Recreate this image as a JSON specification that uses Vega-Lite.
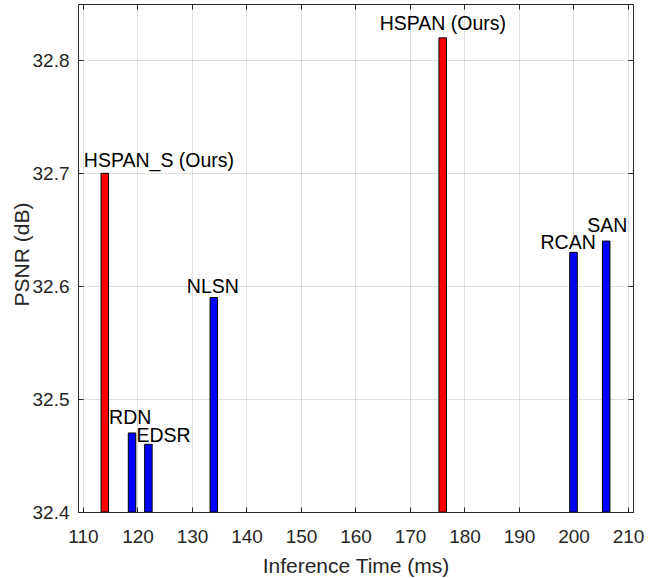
{
  "$schema": "https://vega.github.io/schema/vega-lite/v6.json",
  "description": "PSNR vs inference time of super-resolution models.",
  "autosize": {"type": "none"},
  "width": 555,
  "height": 508,
  "padding": {"left": 78, "top": 4, "right": 17, "bottom": 66},
  "background": "white",
  "config": {
    "font": "Liberation Sans",
    "view": {"stroke": "#262626", "strokeWidth": 1},
    "axis": {
      "domain": false,
      "gridColor": "#262626",
      "gridOpacity": 0.15,
      "tickColor": "#262626",
      "tickSize": -5,
      "labelColor": "#262626",
      "labelFont": "Liberation Sans",
      "labelFontSize": 19,
      "titleColor": "#262626",
      "titleFont": "Liberation Sans",
      "titleFontSize": 21,
      "titleFontWeight": "normal"
    }
  },
  "data": {
    "values": [
      {"name": "HSPAN_S (Ours)", "time": 114, "psnr": 32.70, "ours": "yes"},
      {"name": "RDN", "time": 119, "psnr": 32.47, "ours": "no"},
      {"name": "EDSR", "time": 122, "psnr": 32.46, "ours": "no"},
      {"name": "NLSN", "time": 134, "psnr": 32.59, "ours": "no"},
      {"name": "HSPAN (Ours)", "time": 176, "psnr": 32.82, "ours": "yes"},
      {"name": "RCAN", "time": 200, "psnr": 32.63, "ours": "no"},
      {"name": "SAN", "time": 206, "psnr": 32.64, "ours": "no"}
    ]
  },
  "layer": [
    {
      "mark": {"type": "bar", "width": 7.5, "stroke": "black", "strokeWidth": 1, "clip": true},
      "encoding": {
        "x": {
          "field": "time", "type": "quantitative",
          "scale": {"domain": [110, 210], "nice": false, "zero": false},
          "axis": {
            "orient": "bottom",
            "values": [110, 120, 130, 140, 150, 160, 170, 180, 190, 200, 210],
            "labelBaseline": "alphabetic",
            "labelPadding": 35,
            "labelFlush": false,
            "title": "Inference Time (ms)",
            "titleBaseline": "alphabetic",
            "titleY": 60
          }
        },
        "y": {
          "field": "psnr", "type": "quantitative",
          "scale": {"domain": [32.4, 32.85], "nice": false, "zero": false},
          "axis": {
            "orient": "left",
            "values": [32.4, 32.5, 32.6, 32.7, 32.8],
            "format": ".1f",
            "labelPadding": 14,
            "labelFlush": false,
            "title": "PSNR (dB)",
            "titleBaseline": "alphabetic",
            "titleX": -50,
            "titleY": 250
          }
        },
        "y2": {"datum": 32.4},
        "color": {
          "field": "ours", "type": "nominal",
          "scale": {"domain": ["yes", "no"], "range": ["#ff0000", "#0000ff"]},
          "legend": null
        }
      }
    },
    {
      "mark": {"type": "point", "opacity": 0},
      "encoding": {
        "x": {
          "field": "time", "type": "quantitative",
          "axis": {
            "orient": "top",
            "values": [110, 120, 130, 140, 150, 160, 170, 180, 190, 200, 210],
            "labels": false, "grid": false, "title": null
          }
        },
        "y": {
          "field": "psnr", "type": "quantitative",
          "axis": {
            "orient": "right",
            "values": [32.4, 32.5, 32.6, 32.7, 32.8],
            "labels": false, "grid": false, "title": null
          }
        }
      }
    },
    {
      "encoding": {
        "x": {"field": "time", "type": "quantitative", "axis": null},
        "y": {"field": "psnr", "type": "quantitative", "axis": null},
        "text": {"field": "name"}
      },
      "layer": [
        {"transform": [{"filter": "datum.name === 'HSPAN_S (Ours)'"}],
         "mark": {"type": "text", "align": "left", "baseline": "alphabetic", "fontSize": 19.5, "color": "black", "dx": -21, "dy": -6.5}},
        {"transform": [{"filter": "datum.name === 'RDN'"}],
         "mark": {"type": "text", "align": "left", "baseline": "alphabetic", "fontSize": 19.5, "color": "black", "dx": -23, "dy": -9}},
        {"transform": [{"filter": "datum.name === 'EDSR'"}],
         "mark": {"type": "text", "align": "left", "baseline": "alphabetic", "fontSize": 19.5, "color": "black", "dx": -12, "dy": -2}},
        {"transform": [{"filter": "datum.name === 'NLSN'"}],
         "mark": {"type": "text", "align": "left", "baseline": "alphabetic", "fontSize": 19.5, "color": "black", "dx": -27, "dy": -5}},
        {"transform": [{"filter": "datum.name === 'HSPAN (Ours)'"}],
         "mark": {"type": "text", "align": "left", "baseline": "alphabetic", "fontSize": 19.5, "color": "black", "dx": -63, "dy": -8}},
        {"transform": [{"filter": "datum.name === 'RCAN'"}],
         "mark": {"type": "text", "align": "left", "baseline": "alphabetic", "fontSize": 19.5, "color": "black", "dx": -33, "dy": -3}},
        {"transform": [{"filter": "datum.name === 'SAN'"}],
         "mark": {"type": "text", "align": "left", "baseline": "alphabetic", "fontSize": 19.5, "color": "black", "dx": -19, "dy": -9}}
      ]
    }
  ],
  "resolve": {"axis": {"x": "independent", "y": "independent"}}
}
